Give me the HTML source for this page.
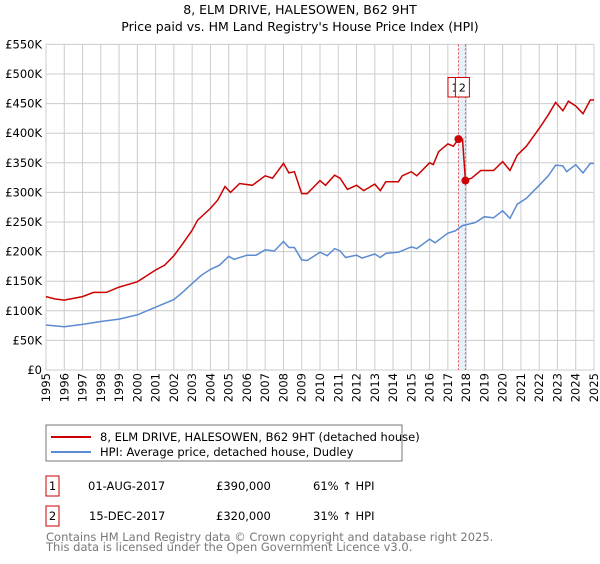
<!DOCTYPE html>
<html><head><meta charset="utf-8"><style>
body{margin:0;background:#fff;font-family:"DejaVu Sans","Liberation Sans",sans-serif;}
svg text{font-family:"DejaVu Sans","Liberation Sans",sans-serif;}
</style></head><body>
<svg id="chart" width="600" height="560" xmlns="http://www.w3.org/2000/svg">
<text x="300" y="14" text-anchor="middle" font-size="12.5">8, ELM DRIVE, HALESOWEN, B62 9HT</text>
<text x="300" y="31" text-anchor="middle" font-size="12.5">Price paid vs. HM Land Registry's House Price Index (HPI)</text>
<g id="grid"></g>
<g id="marks"></g>
<rect x="46" y="425" width="356" height="36" fill="#fff" stroke="#777"/>
<line x1="51" y1="437" x2="91" y2="437" stroke="#cc0000" stroke-width="2"/>
<text x="100" y="441" font-size="11.5">8, ELM DRIVE, HALESOWEN, B62 9HT (detached house)</text>
<line x1="51" y1="452" x2="91" y2="452" stroke="#5b8bd0" stroke-width="2"/>
<text x="100" y="456" font-size="11.5">HPI: Average price, detached house, Dudley</text>
<rect x="46" y="476" width="13" height="20" fill="#fff" stroke="#cc0000"/>
<text x="52.5" y="490" text-anchor="middle" font-size="11.5">1</text>
<text x="88" y="490" font-size="11.5">01-AUG-2017</text>
<text x="216" y="490" font-size="11.5">£390,000</text>
<text x="313" y="490" font-size="11.5">61% ↑ HPI</text>
<rect x="46" y="506" width="13" height="20" fill="#fff" stroke="#cc0000"/>
<text x="52.5" y="520" text-anchor="middle" font-size="11.5">2</text>
<text x="89" y="520" font-size="11.5">15-DEC-2017</text>
<text x="216" y="520" font-size="11.5">£320,000</text>
<text x="313" y="520" font-size="11.5">31% ↑ HPI</text>
<text x="46" y="541" font-size="11.5" fill="#777">Contains HM Land Registry data © Crown copyright and database right 2025.</text>
<text x="46" y="551" font-size="11.5" fill="#777">This data is licensed under the Open Government Licence v3.0.</text>
</svg>
<script>
const yTicks=[0,50,100,150,200,250,300,350,400,450,500,550];
const yTickLabels=["£0","£50K","£100K","£150K","£200K","£250K","£300K","£350K","£400K","£450K","£500K","£550K"];
const xYears=[1995,1996,1997,1998,1999,2000,2001,2002,2003,2004,2005,2006,2007,2008,2009,2010,2011,2012,2013,2014,2015,2016,2017,2018,2019,2020,2021,2022,2023,2024,2025];
const hpiDates=[1995,1996,1997,1998,1999,2000,2001,2002,2002.5,2003,2003.5,2004,2004.5,2005,2005.3,2006,2006.5,2007,2007.5,2008,2008.3,2008.6,2009,2009.3,2010,2010.4,2010.8,2011.1,2011.4,2012,2012.3,2013,2013.3,2013.6,2014.3,2015,2015.3,2016,2016.3,2017,2017.4,2017.8,2018.5,2019,2019.5,2020,2020.4,2020.8,2021.3,2022,2022.5,2022.9,2023.3,2023.5,2024,2024.4,2024.8,2025];
const hpiValues=[76,73,77,82,86,93,106,119,132,146,160,170,177,192,187,194,194,203,201,217,207,207,186,185,199,193,205,201,190,194,189,196,190,197,199,208,205,221,215,231,235,244,249,259,257,269,256,280,290,312,328,346,345,335,347,333,349,349];
const priceDates=[1995,1995.5,1996,1997,1997.6,1998.3,1999,2000,2000.5,2001,2001.5,2002,2002.5,2003,2003.3,2004,2004.4,2004.8,2005.1,2005.6,2006.3,2007,2007.4,2008,2008.3,2008.6,2009,2009.3,2010,2010.3,2010.8,2011.1,2011.5,2012,2012.4,2013,2013.3,2013.6,2014.3,2014.5,2015,2015.3,2016,2016.2,2016.5,2017,2017.3,2017.58,2017.8,2017.96,2018.3,2018.8,2019.5,2020,2020.4,2020.8,2021.3,2022,2022.5,2022.9,2023.3,2023.6,2024,2024.4,2024.8,2025];
const priceValues=[124,120,118,124,131,131,140,149,159,169,177,193,214,236,253,273,287,310,300,315,312,328,324,349,333,335,298,298,320,312,329,324,305,312,303,314,303,318,318,328,335,328,350,347,369,382,378,390,390,321,324,337,337,352,337,363,378,408,431,452,438,454,446,433,456,456];
const saleDates=[2017.58,2017.96];
const saleValues=[390,320];
const saleLabels=["1","2"];
const NS="http://www.w3.org/2000/svg";
const X0=46,X1=594,Y0=370,Y1=44.4;
function xs(d){return X0+(d-1995)/30*(X1-X0);}
function ys(v){return Y0-v/550*(Y0-Y1);}
function mk(tag,attrs,parent){const e=document.createElementNS(NS,tag);for(const k in attrs)e.setAttribute(k,attrs[k]);parent.appendChild(e);return e;}
const grid=document.getElementById('grid'),marks=document.getElementById('marks');
yTicks.forEach((t,i)=>{
 const l=mk('line',{x1:X0,x2:X1,y1:ys(t),y2:ys(t),stroke:'#ccc'},grid);
 
 
 const tx=mk('text',{x:X0-4,y:ys(t)+4,'text-anchor':'end','font-size':'11.5'},grid);
 tx.textContent=yTickLabels[i];
 
 
});
xYears.forEach(y=>{
 const l=mk('line',{x1:xs(y),x2:xs(y),y1:Y1,y2:Y0,stroke:'#ccc'},grid);
 
 
 const tx=mk('text',{x:0,y:0,'text-anchor':'end','font-size':'11.5',transform:`translate(${xs(y)+4},${Y0+3}) rotate(-90)`},grid);
 tx.textContent=y;
 
 
});
const band=mk('rect',{x:xs(saleDates[0]),y:Y1,width:xs(saleDates[1])-xs(saleDates[0]),height:Y0-Y1,fill:'#dde8f8',opacity:0.7},marks);


saleDates.forEach(d=>{
 const l=mk('line',{x1:xs(d),x2:xs(d),y1:Y1,y2:Y0,stroke:'#e05050','stroke-dasharray':'2,2'},marks);
 
 
});
function path(ds,vs,color,name){
 const p=mk('path',{d:ds.map((d,i)=>(i?'L':'M')+xs(d).toFixed(1)+','+ys(vs[i]).toFixed(1)).join(''),fill:'none',stroke:color,'stroke-width':1.5},marks);
 
 
}
path(hpiDates,hpiValues,'#5b8bd0','hpi-line');
path(priceDates,priceValues,'#cc0000','price-line');
saleDates.forEach((d,i)=>{
 const c=mk('circle',{cx:xs(d),cy:ys(saleValues[i]),r:4,fill:'#cc0000'},marks);
 
 
});
saleDates.forEach((d,i)=>{
 const bx=i==0?xs(d)-10.5:xs(d)-10;
 const r=mk('rect',{x:bx,y:77.5,width:14,height:19.5,fill:'#fff',stroke:'#cc0000'},marks);
 
 
 const t=mk('text',{x:bx+7,y:91.5,'text-anchor':'middle','font-size':'11'},marks);
 t.textContent=saleLabels[i];
 
 
});
</script>
</body></html>
